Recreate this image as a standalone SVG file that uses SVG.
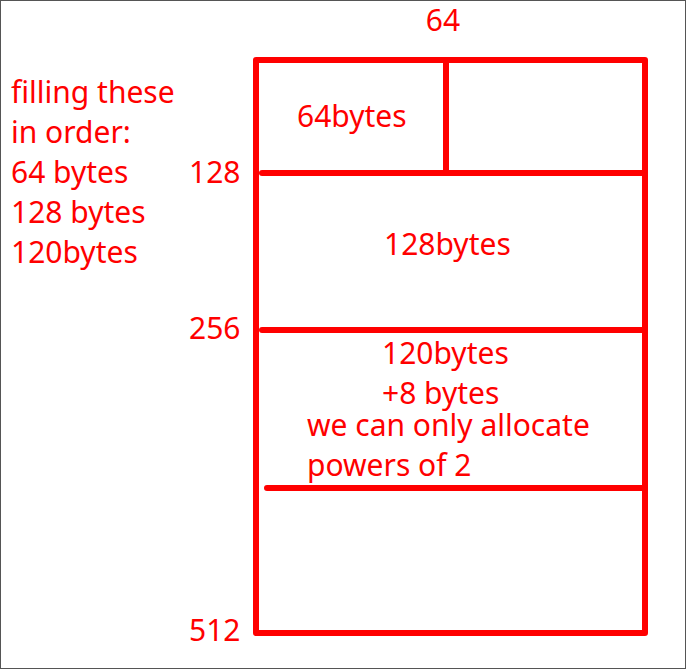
<svg xmlns="http://www.w3.org/2000/svg" width="686" height="669" viewBox="0 0 686 669">
<style>
.t{font-family:"Noto Sans","Open Sans","DejaVu Sans",sans-serif;font-size:30px;fill:#ff0000}
.l{stroke:#ff0000;stroke-width:6;stroke-linecap:round;stroke-linejoin:round;fill:none}
</style>
<rect x="0.5" y="0.5" width="685" height="668" fill="#ffffff" stroke="#555555" stroke-width="1"/>
<g id="connectors">
<path class="l" d="M256 633 V60 H645 V633 Z"/>
<path class="l" d="M446 60 V173"/>
<path class="l" d="M262 173 H645"/>
<path class="l" d="M262 330 H645"/>
<path class="l" d="M267 488 H645"/>
</g>
<g id="labels">
<text class="t" x="443" y="31" text-anchor="middle">64</text>
<text class="t" x="11" y="103">filling these</text>
<text class="t" x="11" y="143">in order:</text>
<text class="t" x="11" y="183">64 bytes</text>
<text class="t" x="11" y="223">128 bytes</text>
<text class="t" x="11" y="263">120bytes</text>
<text class="t" x="189" y="183">128</text>
<text class="t" x="189" y="339">256</text>
<text class="t" x="189" y="641">512</text>
</g>
<g id="node-64"><text class="t" x="297" y="127">64bytes</text></g>
<g id="node-128"><text class="t" x="384" y="255">128bytes</text></g>
<g id="node-120">
<text class="t" x="382" y="364">120bytes</text>
<text class="t" x="382" y="404">+8 bytes</text>
<text class="t" x="307" y="436">we can only allocate</text>
<text class="t" x="307" y="476">powers of 2</text>
</g>
</svg>
